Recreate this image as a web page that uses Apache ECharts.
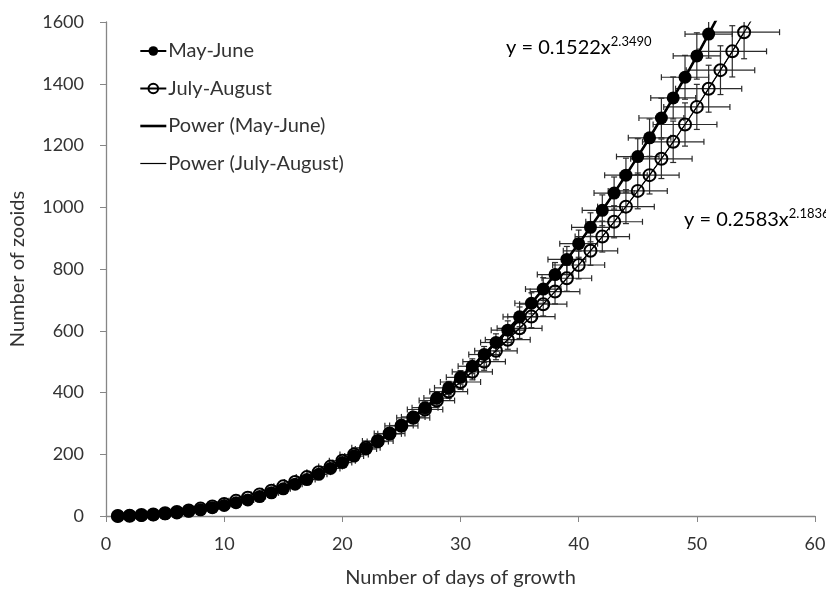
<!DOCTYPE html>
<html>
<head>
<meta charset="utf-8">
<script src="https://cdn.jsdelivr.net/npm/echarts@6/dist/echarts.min.js"></script>
<style>
  html, body { margin: 0; padding: 0; background: #fff; }
  #chart { width: 826px; height: 590px; }
</style>
</head>
<body>
<div id="chart"></div>
<script>
  // days of growth
  var daysMay = [1,2,3,4,5,6,7,8,9,10,11,12,13,14,15,16,17,18,19,20,21,22,23,24,25,26,27,28,29,30,
    31,32,33,34,35,36,37,38,39,40,41,42,43,44,45,46,47,48,49,50,51];
  var daysJul = [1,2,3,4,5,6,7,8,9,10,11,12,13,14,15,16,17,18,19,20,21,22,23,24,25,26,27,28,29,30,
    31,32,33,34,35,36,37,38,39,40,41,42,43,44,45,46,47,48,49,50,51,52,53,54];

  // number of zooids
  var zooidsMay = [0,1,2,4,7,10,15,20,27,34,43,52,63,75,88,103,118,135,154,173,194,217,241,266,293,
    321,351,382,415,449,485,523,562,602,645,689,735,782,831,882,935,990,1046,1104,1164,1225,1289,1354,1421,1490,1561];
  var zooidsJul = [0,1,3,5,9,13,18,24,31,39,49,59,70,82,96,110,126,142,160,179,199,221,243,267,292,
    318,345,374,403,434,467,500,535,571,608,646,686,727,770,813,859,905,953,1002,1053,1104,1157,1212,1268,
    1325,1384,1444,1505,1567];

  // error bars (days / zooids)
  var dayErrMay = [0,0.1,0.1,0.2,0.2,0.2,0.3,0.3,0.4,0.4,0.4,0.5,0.5,0.6,0.6,0.6,0.7,0.7,0.8,0.8,0.8,0.9,0.9,1.0,1.0,
    1.0,1.1,1.1,1.2,1.2,1.2,1.3,1.3,1.4,1.4,1.4,1.5,1.5,1.6,1.6,1.6,1.7,1.7,1.8,1.8,1.8,1.9,1.9,2.0,2.0,2.0];
  var zooidErrMay = [0,0,0,0,0,1,1,1,1,2,2,3,3,4,4,5,6,7,8,9,10,11,12,13,15,16,18,19,21,22,24,26,28,30,32,34,37,39,
    42,44,47,50,52,55,58,61,64,68,71,75,78];
  var dayErrJul = [0.1,0.1,0.2,0.2,0.3,0.3,0.4,0.4,0.5,0.6,0.6,0.7,0.7,0.8,0.8,0.9,0.9,1.0,1.0,1.1,1.2,1.2,1.3,1.3,
    1.4,1.4,1.5,1.5,1.6,1.7,1.7,1.8,1.8,1.9,1.9,2.0,2.0,2.1,2.1,2.2,2.3,2.3,2.4,2.4,2.5,2.5,2.6,2.6,2.7,2.8,2.8,2.9,2.9,3.0];
  var zooidErrJul = [0,0,0,0,0,1,1,1,2,2,3,3,4,5,5,6,7,8,9,10,11,12,13,15,16,17,19,21,22,24,26,28,29,31,33,36,38,40,
    42,45,47,50,52,55,58,61,64,67,70,73,76,79,83,86];

  // trend line carries on one day past the last point
  var trendExtraMay = [52, 1633];
  var trendExtraJul = [55, 1630];

  var xTicks = [0, 10, 20, 30, 40, 50, 60];
  var yTicks = [0, 200, 400, 600, 800, 1000, 1200, 1400, 1600];

  var FONT = 'Lato, "Open Sans", sans-serif';

  function pairs(xs, ys) {
    return xs.map(function (x, i) { return [x, ys[i]]; });
  }
  function errData(xs, ys, ex, ey) {
    return xs.map(function (x, i) { return [x, ys[i], ex[i], ey[i]]; });
  }

  function renderErr(params, api) {
    var x = api.value(0), y = api.value(1), ex = api.value(2), ey = api.value(3);
    var l = api.coord([x - ex, y]), r = api.coord([x + ex, y]);
    var t = api.coord([x, y + ey]), b = api.coord([x, y - ey]);
    var c = 3;
    var st = { stroke: '#2b2b2b', lineWidth: 1.2 };
    var kids = [];
    if (r[0] - l[0] > 1) {
      kids.push({ type: 'line', shape: { x1: l[0], y1: l[1], x2: r[0], y2: r[1] }, style: st });
      kids.push({ type: 'line', shape: { x1: l[0], y1: l[1] - c, x2: l[0], y2: l[1] + c }, style: st });
      kids.push({ type: 'line', shape: { x1: r[0], y1: r[1] - c, x2: r[0], y2: r[1] + c }, style: st });
    }
    if (b[1] - t[1] > 1) {
      kids.push({ type: 'line', shape: { x1: t[0], y1: t[1], x2: b[0], y2: b[1] }, style: st });
      kids.push({ type: 'line', shape: { x1: t[0] - c, y1: t[1], x2: t[0] + c, y2: t[1] }, style: st });
      kids.push({ type: 'line', shape: { x1: b[0] - c, y1: b[1], x2: b[0] + c, y2: b[1] }, style: st });
    }
    return { type: 'group', children: kids };
  }

  var eqRich = {
    a: { fontFamily: FONT, fontSize: 20, color: '#222', lineHeight: 26 },
    s: { fontFamily: FONT, fontSize: 13, color: '#222', verticalAlign: 'top', lineHeight: 26, padding: [0, 0, 11, 0] }
  };

  var myChart = echarts.init(document.getElementById('chart'));
  var option = {
    animation: false,
    backgroundColor: '#fff',
    textStyle: { fontFamily: FONT },
    grid: { left: 106, right: 11, top: 22, bottom: 74, outerBoundsMode: 'none' },
    legend: {
      orient: 'vertical',
      left: 134,
      top: 36,
      itemWidth: 26,
      itemHeight: 12,
      itemGap: 17.5,
      textStyle: { fontFamily: FONT, fontSize: 20, color: '#333', padding: [0, 0, 0, -3] },
      data: [
        { name: 'May-June' },
        { name: 'July-August' },
        { name: 'Power (May-June)', itemStyle: { opacity: 0 }, lineStyle: { width: 2.6 } },
        { name: 'Power (July-August)', itemStyle: { opacity: 0 }, lineStyle: { width: 1.2 } }
      ]
    },
    xAxis: {
      type: 'value',
      min: xTicks[0],
      max: xTicks[xTicks.length - 1],
      interval: 10,
      name: 'Number of days of growth',
      nameLocation: 'middle',
      nameGap: 52,
      nameTextStyle: { fontFamily: FONT, fontSize: 20, color: '#333' },
      axisLine: { lineStyle: { color: '#868686', width: 1.3 } },
      axisTick: { show: true, length: 6, lineStyle: { color: '#868686' } },
      axisLabel: { fontFamily: FONT, fontSize: 18, color: '#333', margin: 19 },
      splitLine: { show: false }
    },
    yAxis: {
      type: 'value',
      min: yTicks[0],
      max: yTicks[yTicks.length - 1],
      interval: 200,
      name: 'Number of zooids',
      nameLocation: 'middle',
      nameGap: 78,
      nameTextStyle: { fontFamily: FONT, fontSize: 20, color: '#333' },
      axisLine: { show: true, lineStyle: { color: '#868686', width: 1.3 } },
      axisTick: { show: true, length: 6, lineStyle: { color: '#868686' } },
      axisLabel: { fontFamily: FONT, fontSize: 18, color: '#333', margin: 22,
        formatter: function (v) { return String(v); } },
      splitLine: { show: false }
    },
    graphic: [
      { type: 'text', left: 506, top: 35, style: { text: '{a|y = 0.1522x}{s|2.3490}', rich: eqRich } },
      { type: 'text', left: 684, top: 207, style: { text: '{a|y = 0.2583x}{s|2.1836}', rich: eqRich } }
    ],
    series: [
      {
        name: 'errMay', type: 'custom', renderItem: renderErr, clip: true, z: 1,
        data: errData(daysMay, zooidsMay, dayErrMay, zooidErrMay), silent: true
      },
      {
        name: 'errJul', type: 'custom', renderItem: renderErr, clip: true, z: 1,
        data: errData(daysJul, zooidsJul, dayErrJul, zooidErrJul), silent: true
      },
      {
        name: 'Power (May-June)', type: 'line', symbol: 'none', clip: true, z: 2,
        lineStyle: { color: '#000', width: 2.6 }, itemStyle: { color: '#000' },
        data: pairs(daysMay, zooidsMay).concat([trendExtraMay])
      },
      {
        name: 'Power (July-August)', type: 'line', symbol: 'none', clip: true, z: 2,
        lineStyle: { color: '#000', width: 1.2 }, itemStyle: { color: '#000' },
        data: pairs(daysJul, zooidsJul).concat([trendExtraJul])
      },
      {
        name: 'May-June', type: 'line', symbol: 'circle', symbolSize: 13, clip: true, z: 3,
        itemStyle: { color: '#000' },
        lineStyle: { color: '#000', width: 1.5 },
        data: pairs(daysMay, zooidsMay)
      },
      {
        name: 'July-August', type: 'line', symbol: 'circle', symbolSize: 12, clip: true, z: 3,
        itemStyle: { color: 'rgba(255,255,255,0)', borderColor: '#000', borderWidth: 2 },
        lineStyle: { color: '#000', width: 1 },
        data: pairs(daysJul, zooidsJul)
      }
    ]
  };
  myChart.setOption(option);
</script>
</body>
</html>
